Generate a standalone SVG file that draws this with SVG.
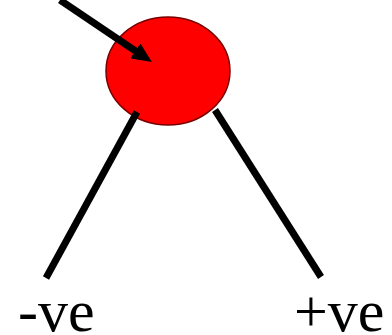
<svg xmlns="http://www.w3.org/2000/svg" width="392" height="335" viewBox="0 0 392 335">
<defs>
<style>
.leg{stroke:#000;stroke-width:7;stroke-linecap:butt;fill:none}
.lbl{font-family:"Liberation Serif","Times New Roman",serif;font-size:60px;fill:#000}
</style>
<marker id="ah" markerWidth="20" markerHeight="18" viewBox="0 0 20 18" refX="2" refY="9" orient="auto" markerUnits="userSpaceOnUse">
<path d="M0,0 L20,9 L0,18 Z" fill="#000"/>
</marker>
</defs>
<rect width="392" height="335" fill="#fff"/>
<g id="ball">
<ellipse cx="168" cy="71" rx="62" ry="54" fill="#f00" stroke="#7a0000" stroke-width="1.5"/>
</g>
<g id="connectors">
<line class="leg" x1="60" y1="0" x2="137" y2="52" marker-end="url(#ah)"/>
<line class="leg" x1="137" y1="112" x2="46" y2="278"/>
<line class="leg" x1="215" y1="110" x2="321" y2="277"/>
</g>
<g id="neg"><text class="lbl" x="18" y="331">-ve</text></g>
<g id="pos"><text class="lbl" x="294" y="331">+ve</text></g>
</svg>
